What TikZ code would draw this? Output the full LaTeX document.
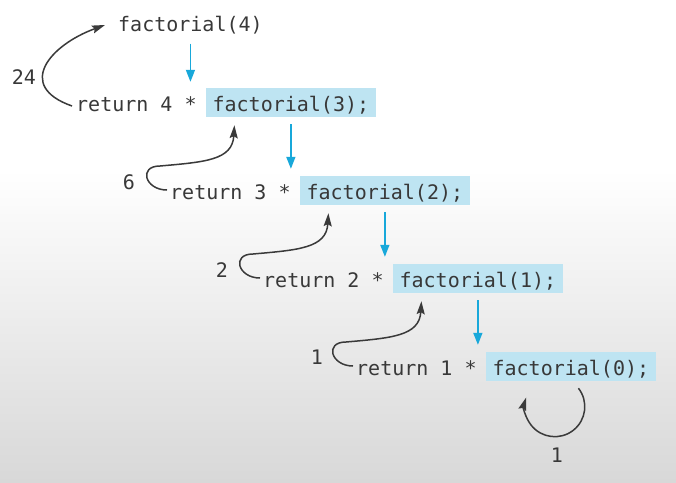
\documentclass[tikz,border=0pt]{standalone}
\usepackage{fontspec}
\newfontfamily\codefont{DejaVu Sans Mono}
\usetikzlibrary{arrows.meta}
\usetikzlibrary{positioning}
\usetikzlibrary{calc}
\definecolor{callblue}{RGB}{190,228,242}
\definecolor{arrowblue}{RGB}{24,168,218}
\definecolor{codegray}{RGB}{56,56,56}
\definecolor{retgray}{RGB}{58,58,58}
\definecolor{bgbottom}{RGB}{216,216,216}
\tikzset{
  code/.style={font=\codefont\fontsize{20}{24}\selectfont, text=codegray, text height=19pt, text depth=1pt, inner ysep=4.5pt, inner xsep=0pt},
  call/.style={code, fill=callblue, inner xsep=7pt},
  callarrow/.style={draw=arrowblue, line width=1.5pt, -{Triangle[length=12pt,width=9pt]}},
  retarrow/.style={draw=retgray, line width=1.5pt, -{Stealth[length=13pt,width=8pt,inset=2pt]}},
  value/.style={font=\codefont\fontsize{20}{24}\selectfont, text=codegray, inner sep=0.75pt},
}
\begin{document}
\begin{tikzpicture}[x=1pt,y=1pt,yscale=-1,xscale=1]
\useasboundingbox (0,0) rectangle (676,482);
%Background
\fill [white] (0,0) rectangle (676,482);
\shade [top color=white, bottom color=bgbottom] (0,170) rectangle (676,482);

% Text Node: first call
\node [code, anchor=base west] (call0) at (118,31) {factorial(4)};
% Text Nodes: return lines
\node [code, anchor=base west] (ret1) at (76,111.5) {return 4 *};
\node [call, right=8.6pt of ret1] (call1) {factorial(3);};
\node [code, anchor=base west] (ret2) at (170,199.5) {return 3 *};
\node [call, right=8.6pt of ret2] (call2) {factorial(2);};
\node [code, anchor=base west] (ret3) at (263,287.5) {return 2 *};
\node [call, right=8.6pt of ret3] (call3) {factorial(1);};
\node [code, anchor=base west] (ret4) at (356,375.5) {return 1 *};
\node [call, right=8.6pt of ret4] (call4) {factorial(0);};

%Straight Lines: calls going down
\draw [callarrow, shorten <=7pt, shorten >=6pt] (call0.south) -- (call0.south |- call1.north);
\draw [callarrow, shorten <=7pt, shorten >=7pt] (call1.south) -- (call1.south |- call2.north);
\draw [callarrow, shorten <=7pt, shorten >=7pt] (call2.south) -- (call2.south |- call3.north);
\draw [callarrow, shorten <=7pt, shorten >=7pt] (call3.south) -- (call3.south |- call4.north);

%Curves: values going back up
\draw [retarrow] ($(ret1.base west)+(-4,-5.5)$) .. controls +(-57,-20) and +(-55,20) .. ($(call0.base west)+(-13,-6)$);
\draw [retarrow] ($(ret2.base west)+(-3,-9.5)$) .. controls +(-22,0) and +(-22,0) .. ($(ret2.base west)+(-10,-33.5)$) .. controls +(45,-4) and +(-2,35) .. ($(call1.south west)+(29,8)$);
\draw [retarrow] ($(ret3.base west)+(-3,-9.5)$) .. controls +(-22,0) and +(-22,0) .. ($(ret3.base west)+(-10,-33.5)$) .. controls +(45,-4) and +(-2,35) .. ($(call2.south west)+(29,8)$);
\draw [retarrow] ($(ret4.base west)+(-3,-9.5)$) .. controls +(-22,0) and +(-22,0) .. ($(ret4.base west)+(-10,-33.5)$) .. controls +(45,-4) and +(-2,35) .. ($(call3.south west)+(29,8)$);
%Arc: base case
\coordinate (loopstart) at ($(call4.south west)+(93,7)$);
\draw [retarrow] (loopstart) arc [start angle=-38, end angle=198, radius=30];

% Text Nodes: returned values
\node [value] (v24) at (24,77) {24};
\node [value] (v6) at (129,182) {6};
\node [value] (v2) at (222,270) {2};
\node [value] (v1) at (317,357) {1};
\node [value] (v0) at (557,455) {1};
\end{tikzpicture}
\end{document}
